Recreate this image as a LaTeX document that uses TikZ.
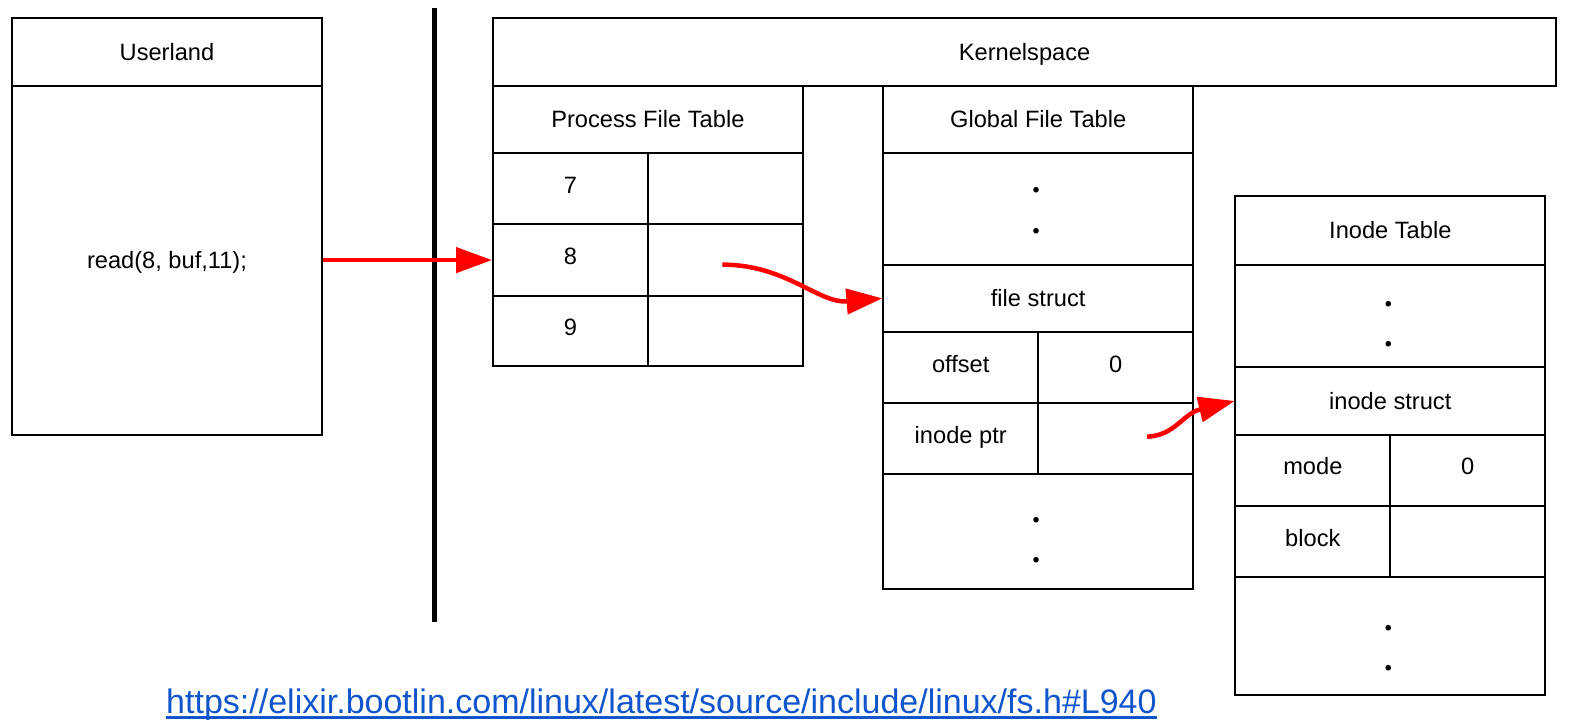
\documentclass[tikz,border=0pt]{standalone}
\usepackage{fontspec}
\setmainfont{Liberation Sans}
\newfontfamily\dotfont{Liberation Serif}
\usepackage{xcolor}
\usepackage{tikz}
\usetikzlibrary{arrows.meta}
\definecolor{linkblue}{HTML}{1155CC}

\begin{document}
\begin{tikzpicture}[x=1pt, y=-1pt,
        cell/.style={draw, line width=2pt, inner sep=0pt, text height=16.8pt, text depth=0pt, font=\fontsize{23.5}{28}\selectfont},
        kv/.style={cell, text depth=8pt, minimum width=154pt},
        arr/.style={color=red, line width=4.5pt, -{Triangle[length=36pt,width=25pt]}},
        vdots/.style={inner sep=0pt, align=center, font=\dotfont\bfseries\fontsize{34}{40}\selectfont}]
            \useasboundingbox (0, 0) rectangle (1577, 725);
        \begin{scope}[scale=1.006, every node/.append style={transform shape}]
            \node (uhead) at (166, 51.5) [cell, minimum width=308pt, minimum height=67pt] {Userland};
            \node (ubody) at (166, 258.5) [cell, minimum width=308pt, minimum height=347pt] {read(8, buf,11);};
            \draw [line width=4.5pt] (432, 8) -- (432, 618);
            \node (kspace) at (1018.5, 51.5) [cell, minimum width=1057pt, minimum height=67pt] {Kernelspace};
            \node (phead) at (644, 118.5) [cell, minimum width=308pt, minimum height=67pt] {Process File Table};
            \node (p7k) at (567, 187.5) [kv, minimum height=71pt] {7};
            \node (p7v) at (721, 187.5) [kv, minimum height=71pt] {};
            \node (p8k) at (567, 258.5) [kv, minimum height=71pt] {8};
            \node (p8v) at (721, 258.5) [kv, minimum height=71pt] {};
            \node (p9k) at (567, 329) [kv, minimum height=70pt] {9};
            \node (p9v) at (721, 329) [kv, minimum height=70pt] {};
            \node (ghead) at (1032, 118.5) [cell, minimum width=308pt, minimum height=67pt] {Global File Table};
            \node (gtop) at (1032, 207.5) [cell, minimum width=308pt, minimum height=111pt] {};
            \node (gfile) at (1032, 296.5) [cell, minimum width=308pt, minimum height=67pt] {file struct};
            \node (goffk) at (955, 365.5) [kv, minimum height=71pt] {offset};
            \node (goffv) at (1109, 365.5) [kv, minimum height=71pt] {0};
            \node (gptrk) at (955, 436) [kv, minimum height=70pt] {inode ptr};
            \node (gptrv) at (1109, 436) [kv, minimum height=70pt] {};
            \node (gbot) at (1032, 528) [cell, minimum width=308pt, minimum height=114pt] {};
            \node (ihead) at (1382, 229) [cell, minimum width=308pt, minimum height=68pt] {Inode Table};
            \node (itop) at (1382, 314) [cell, minimum width=308pt, minimum height=102pt] {};
            \node (inode) at (1382, 398.5) [cell, minimum width=308pt, minimum height=67pt] {inode struct};
            \node (imodek) at (1305, 467.5) [kv, minimum height=71pt] {mode};
            \node (imodev) at (1459, 467.5) [kv, minimum height=71pt] {0};
            \node (iblockk) at (1305, 538.5) [kv, minimum height=71pt] {block};
            \node (iblockv) at (1459, 538.5) [kv, minimum height=71pt] {};
            \node (ibot) at (1382, 632.5) [cell, minimum width=308pt, minimum height=117pt] {};
            \node (gtopdots) at (1030, 209.5) [vdots] {.\\.};
            \node (gbotdots) at (1030, 537) [vdots] {.\\.};
            \node (itopdots) at (1380, 322.5) [vdots] {.\\.};
            \node (ibotdots) at (1380, 644.5) [vdots] {.\\.};
            \coordinate (fdstart) at (718, 263);
            \coordinate (ptrstart) at (1140, 434);
            \draw [arr] (ubody.east) -- (p8k.west);
            \draw [arr] (fdstart) to [out=0, in=185] (gfile.west);
            \draw [arr] (ptrstart) .. controls (1168, 433) and (1176, 411) .. (inode.west);
            \node (link) at (657.5, 709) [anchor=base, text=linkblue, inner sep=0pt, font=\fontsize{33.8}{40}\selectfont] {https://elixir.bootlin.com/linux/latest/source/include/linux/fs.h\#L940};
            \draw [linkblue, line width=2.5pt] ([yshift=-4pt]link.base west) -- ([yshift=-4pt]link.base east);
        \end{scope}
        \end{tikzpicture}
\end{document}
